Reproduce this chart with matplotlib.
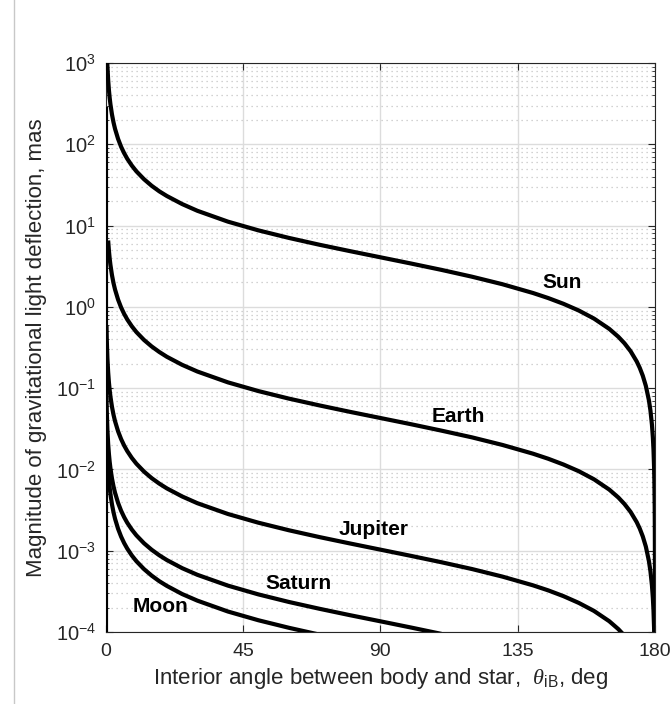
import matplotlib
matplotlib.use("Agg")
import matplotlib.pyplot as plt
from matplotlib.ticker import LogLocator, FixedLocator, LogFormatterMathtext, NullFormatter
from matplotlib.lines import Line2D

plt.rcParams['font.family'] = ['Liberation Sans', 'DejaVu Sans']
plt.rcParams['mathtext.fontset'] = 'custom'
plt.rcParams['mathtext.rm'] = 'Liberation Sans'
plt.rcParams['mathtext.it'] = 'Liberation Serif:italic'
plt.rcParams['mathtext.bf'] = 'Liberation Sans:bold'

# ---- data ----
sun_theta = [0.35, 0.5, 0.75, 1, 1.25, 1.5, 2, 2.5, 3, 4, 5, 6, 7, 8.5, 10, 12.5, 15, 17.5, 20,
             25, 30, 40, 50, 60, 70, 80, 90, 100, 110, 120, 130, 140, 145, 150, 155, 160, 165,
             168, 170, 172, 174, 175, 176, 177, 178, 178.5, 179, 179.3, 179.5, 179.7, 179.8,
             179.9, 179.95, 179.98, 179.99, 179.995, 179.998]
sun_defl = [1333, 932.8, 621.9, 466.4, 373.1, 310.9, 233.2, 186.5, 155.4, 116.6, 93.2, 77.7,
            66.5, 54.8, 46.5, 37.2, 30.9, 26.4, 23.1, 18.4, 15.2, 11.18, 8.73, 7.05, 5.81, 4.85,
            4.07, 3.415, 2.850, 2.350, 1.898, 1.481, 1.283, 1.090, 0.902, 0.7176, 0.536, 0.4278,
            0.3561, 0.2846, 0.2133, 0.1777, 0.1421, 0.1066, 0.0711, 0.0533, 0.0355, 0.02486,
            0.01776, 0.01066, 0.0071, 0.00355, 0.001776, 7.1e-4, 3.55e-4, 1.78e-4, 7.1e-5]

earth_theta = [0.75, 1, 1.25, 1.5, 2, 2.5, 3, 4, 5, 6, 7, 8.5, 10, 12.5, 15, 17.5, 20, 25, 30,
               40, 50, 60, 70, 80, 90, 100, 110, 120, 130, 140, 145, 150, 155, 160, 165, 168,
               170, 172, 174, 175, 176, 177, 178, 178.5, 179, 179.3, 179.5, 179.7, 179.8]
earth_defl = [6.55, 4.92, 3.933, 3.28, 2.46, 1.966, 1.638, 1.229, 0.982, 0.8185, 0.701, 0.5774,
              0.490, 0.3917, 0.326, 0.2787, 0.243, 0.1935, 0.1601, 0.1178, 0.0920, 0.0743,
              0.0613, 0.0511, 0.0429, 0.0360, 0.0300, 0.0248, 0.0200, 0.01562, 0.01353, 0.01149,
              0.009511, 0.00756, 0.00565, 0.004509, 0.00375, 0.0030, 0.002248, 0.001873,
              0.001498, 0.001124, 7.49e-4, 5.62e-4, 3.74e-4, 2.62e-4, 1.87e-4, 1.12e-4, 7.5e-5]

jupiter_theta = [0.2, 0.3, 0.5, 0.75, 1, 1.25, 1.5, 2, 2.5, 3, 4, 5, 6, 7, 8.5, 10, 12.5, 15,
                 17.5, 20, 25, 30, 40, 50, 60, 70, 80, 90, 100, 110, 120, 130, 140, 145, 150,
                 155, 160, 165, 168, 170]
jupiter_defl = [0.590, 0.393, 0.236, 0.1574, 0.1180, 0.0944, 0.0787, 0.0590, 0.0472, 0.0393,
                0.0295, 0.0236, 0.01965, 0.01684, 0.01386, 0.01177, 0.009405, 0.00782,
                0.006692, 0.00584, 0.00465, 0.00384, 0.00283, 0.00221, 0.001784, 0.001471,
                0.001228, 0.00103, 8.64e-4, 7.21e-4, 5.95e-4, 4.80e-4, 3.75e-4, 3.25e-4,
                2.76e-4, 2.28e-4, 1.816e-4, 1.357e-4, 1.083e-4, 9.01e-5]

saturn_theta = [0.2, 0.3, 0.5, 0.75, 1, 1.25, 1.5, 2, 2.5, 3, 4, 5, 6, 7, 8.5, 10, 12.5, 15,
                17.5, 20, 25, 30, 40, 50, 60, 70, 80, 90, 100, 110]
saturn_defl = [0.0775, 0.0517, 0.0310, 0.0207, 0.01550, 0.0124, 0.01034, 0.00775, 0.0062,
               0.00517, 0.00388, 0.00310, 0.002582, 0.00221, 0.001821, 0.001546, 0.001235,
               0.001028, 8.79e-4, 7.67e-4, 6.10e-4, 5.05e-4, 3.72e-4, 2.90e-4, 2.34e-4,
               1.93e-4, 1.61e-4, 1.353e-4, 1.135e-4, 9.47e-5]

moon_theta = [0.2, 0.3, 0.5, 0.75, 1, 1.25, 1.5, 2, 2.5, 3, 4, 5, 6, 7, 8.5, 10, 12.5, 15,
              17.5, 20, 25, 30, 40, 50, 60, 70]
moon_defl = [0.0372, 0.0248, 0.01490, 0.00993, 0.00745, 0.00596, 0.00497, 0.00372, 0.002979,
             0.00248, 0.001862, 0.001489, 0.00124, 0.001063, 8.75e-4, 7.43e-4, 5.94e-4,
             4.94e-4, 4.22e-4, 3.69e-4, 2.93e-4, 2.43e-4, 1.786e-4, 1.394e-4, 1.126e-4, 9.28e-5]

limb_theta = [0.12, 0.12]
limb_defl = [1e-4, 290]

labels = ["Sun", "Earth", "Jupiter", "Saturn", "Moon"]
label_theta = [149.5, 115.6, 87.9, 63.2, 17.8]
label_defl = [1.97, 0.0447, 1.81e-3, 3.94e-4, 2.04e-4]

x_ticks = [0, 45, 90, 135, 180]

# ---- figure ----
fig = plt.figure(figsize=(6.7, 7.04), dpi=100)
ax = fig.add_axes([0.158, 0.1023, 0.8196, 0.8082])

series = [(sun_theta, sun_defl), (earth_theta, earth_defl), (jupiter_theta, jupiter_defl),
          (saturn_theta, saturn_defl), (moon_theta, moon_defl), (limb_theta, limb_defl)]
for t, d in series:
    ax.plot(t, d, color='black', lw=3.0, solid_capstyle='butt', solid_joinstyle='round',
            zorder=3)

for txt, tx, ty in zip(labels, label_theta, label_defl):
    ax.text(tx, ty, txt, ha='center', va='center', fontsize=15, fontweight='bold',
            color='black', zorder=4)

ax.set_yscale('log')
ax.set_xlim(0, 180)
ax.set_ylim(1e-4, 1e3)
ax.xaxis.set_major_locator(FixedLocator(x_ticks))
ax.yaxis.set_major_locator(LogLocator(base=10, numticks=20))
ax.yaxis.set_minor_locator(LogLocator(base=10, subs=range(2, 10), numticks=20))
ax.yaxis.set_major_formatter(LogFormatterMathtext())
ax.yaxis.set_minor_formatter(NullFormatter())

axc = '#262626'
ax.grid(True, which='major', color='#dcdcdc', lw=1.0, ls='-', zorder=0)
ax.grid(True, which='minor', axis='y', color='#c4c4c4', lw=0.9, ls=(0, (1, 3)), zorder=0)
ax.set_axisbelow(True)

for s in ax.spines.values():
    s.set_color(axc)
    s.set_linewidth(0.8)
ax.tick_params(which='both', direction='in', top=True, right=True, colors=axc,
               labelcolor='#262626')
ax.tick_params(axis='y', labelsize=14.5, pad=7)
ax.tick_params(axis='x', labelsize=14, pad=8)
ax.tick_params(which='major', length=5, width=0.8)
ax.tick_params(which='minor', length=2.5, width=0.6)

ax.set_xlabel(r'Interior angle between body and star,  $\theta_{\mathrm{iB}}$, deg',
              fontsize=16, color='#262626', labelpad=4)
ax.set_ylabel('Magnitude of gravitational light deflection, mas', fontsize=16,
              color='#262626', labelpad=6)

fig.add_artist(Line2D([13.5 / 670, 13.5 / 670], [0, 1], color='#c8c8c8', lw=1.0))

fig.savefig('out.png', dpi=100)
